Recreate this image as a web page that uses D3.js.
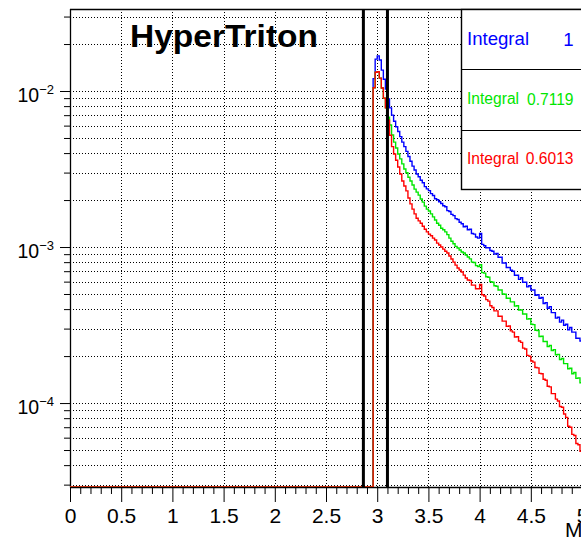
<!DOCTYPE html>
<html>
<head>
<meta charset="utf-8">
<script src="https://cdn.jsdelivr.net/npm/d3@7"></script>
<style>
  body { margin: 0; background: #fff; overflow: hidden; }
  svg { display: block; }
  text { font-family: "Liberation Sans", Arial, Helvetica, sans-serif; }
</style>
</head>
<body>
<svg id="chart" width="581" height="539"></svg>
<script>
// Histogram binning: first filled bin edge and bin width (everything below is empty)
const binLow = 2.96;
const binWidth = 0.02;

// Bin contents, bins 2.96 ... 4.98
const blueCounts = [
  1.2e-2, 1.6e-2, 1.68e-2, 1.58e-2, 1.36e-2, 1.19e-2, 1.03e-2, 8.9e-3, 7.8e-3, 7.0e-3,
  6.4e-3, 5.9e-3, 5.5e-3, 5.1e-3, 4.7e-3, 4.4e-3, 4.1e-3, 3.8e-3, 3.55e-3, 3.3e-3,
  3.12e-3, 2.94e-3, 2.82e-3, 2.68e-3, 2.58e-3, 2.44e-3, 2.36e-3, 2.3e-3, 2.2e-3, 2.14e-3,
  2.04e-3, 2.01e-3, 1.95e-3, 1.9e-3, 1.84e-3, 1.81e-3, 1.71e-3, 1.69e-3, 1.62e-3, 1.59e-3,
  1.52e-3, 1.5e-3, 1.44e-3, 1.41e-3, 1.35e-3, 1.36e-3, 1.29e-3, 1.3e-3, 1.22e-3, 1.21e-3,
  1.16e-3, 1.14e-3, 1.22e-3, 1.04e-3, 1.02e-3, 9.9e-4, 9.9e-4, 9.5e-4, 9.4e-4, 9.0e-4,
  9.1e-4, 8.6e-4, 8.6e-4, 7.9e-4, 7.9e-4, 7.4e-4, 7.4e-4, 7.1e-4, 7.0e-4, 6.6e-4,
  6.6e-4, 6.2e-4, 6.35e-4, 5.95e-4, 5.95e-4, 5.55e-4, 5.65e-4, 5.3e-4, 5.3e-4, 4.9e-4,
  4.95e-4, 4.7e-4, 4.75e-4, 4.35e-4, 4.4e-4, 4.05e-4, 4.15e-4, 3.8e-4, 3.8e-4, 3.5e-4,
  3.55e-4, 3.3e-4, 3.4e-4, 3.15e-4, 3.2e-4, 2.95e-4, 3.05e-4, 2.85e-4, 2.85e-4, 2.6e-4,
  2.6e-4, 2.5e-4
];
const greenCounts = [
  1.05e-2, 1.32e-2, 1.33e-2, 1.21e-2, 1.045e-2, 9.0e-3, 7.8e-3, 6.8e-3, 6.06e-3, 5.22e-3,
  4.7e-3, 4.31e-3, 3.95e-3, 3.67e-3, 3.41e-3, 3.16e-3, 2.99e-3, 2.8e-3, 2.65e-3, 2.5e-3,
  2.35e-3, 2.25e-3, 2.15e-3, 2.03e-3, 1.94e-3, 1.83e-3, 1.75e-3, 1.7e-3, 1.63e-3, 1.56e-3,
  1.49e-3, 1.42e-3, 1.38e-3, 1.32e-3, 1.29e-3, 1.25e-3, 1.2e-3, 1.14e-3, 1.09e-3, 1.05e-3,
  1.01e-3, 9.85e-4, 9.57e-4, 9.29e-4, 9.15e-4, 8.89e-4, 8.63e-4, 8.4e-4, 8.0e-4, 7.95e-4,
  7.6e-4, 7.5e-4, 7.7e-4, 6.85e-4, 6.8e-4, 6.45e-4, 6.4e-4, 6.0e-4, 5.95e-4, 5.65e-4,
  5.6e-4, 5.3e-4, 5.3e-4, 5.0e-4, 4.98e-4, 4.7e-4, 4.7e-4, 4.45e-4, 4.45e-4, 4.18e-4,
  4.2e-4, 3.95e-4, 3.95e-4, 3.72e-4, 3.72e-4, 3.45e-4, 3.47e-4, 3.2e-4, 3.18e-4, 2.93e-4,
  2.92e-4, 2.67e-4, 2.68e-4, 2.48e-4, 2.48e-4, 2.3e-4, 2.34e-4, 2.17e-4, 2.2e-4, 2.04e-4,
  2.05e-4, 1.9e-4, 1.93e-4, 1.79e-4, 1.79e-4, 1.66e-4, 1.67e-4, 1.54e-4, 1.57e-4, 1.44e-4,
  1.45e-4, 1.35e-4
];
const redCounts = [
  1.05e-2, 1.32e-2, 1.33e-2, 1.21e-2, 1.045e-2, 9.0e-3, 7.8e-3, 6.5e-3, 5.2e-3, 4.4e-3,
  3.95e-3, 3.6e-3, 3.26e-3, 2.94e-3, 2.65e-3, 2.46e-3, 2.29e-3, 2.06e-3, 1.89e-3, 1.75e-3,
  1.63e-3, 1.53e-3, 1.47e-3, 1.42e-3, 1.36e-3, 1.3e-3, 1.25e-3, 1.21e-3, 1.18e-3, 1.14e-3,
  1.11e-3, 1.06e-3, 1.03e-3, 1.0e-3, 9.7e-4, 9.4e-4, 9.15e-4, 8.76e-4, 8.38e-4, 8.0e-4,
  7.66e-4, 7.33e-4, 7.12e-4, 6.91e-4, 6.61e-4, 6.33e-4, 6.15e-4, 6.1e-4, 5.7e-4, 5.7e-4,
  5.4e-4, 5.4e-4, 5.75e-4, 4.95e-4, 4.85e-4, 4.6e-4, 4.5e-4, 4.2e-4, 4.1e-4, 3.9e-4,
  3.9e-4, 3.6e-4, 3.6e-4, 3.35e-4, 3.35e-4, 3.1e-4, 3.12e-4, 2.9e-4, 2.85e-4, 2.65e-4,
  2.66e-4, 2.5e-4, 2.45e-4, 2.25e-4, 2.22e-4, 2.02e-4, 2.0e-4, 1.86e-4, 1.83e-4, 1.69e-4,
  1.68e-4, 1.55e-4, 1.54e-4, 1.42e-4, 1.4e-4, 1.28e-4, 1.27e-4, 1.15e-4, 1.15e-4, 1.06e-4,
  1.03e-4, 9.5e-5, 9.4e-5, 8.5e-5, 8.1e-5, 7.1e-5, 7.0e-5, 6.3e-5, 6.2e-5, 5.5e-5,
  5.4e-5, 4.9e-5
];

// Axis ticks and labels
const xTicks = [0, 0.5, 1, 1.5, 2, 2.5, 3, 3.5, 4, 4.5, 5];
const xTickLabels = ["0", "0.5", "1", "1.5", "2", "2.5", "3", "3.5", "4", "4.5", "5"];
const yDecades = [1e-4, 1e-3, 1e-2];
const yDecadeExponents = ["\u22124", "\u22123", "\u22122"];
const xAxisTitle = "M";
const title = "HyperTriton";

// Mass-window cut positions
const cutLines = [2.865, 3.1];

// Legend entries
const legendLabels = ["Integral", "Integral", "Integral"];
const legendValues = ["1", "0.7119", "0.6013"];
const seriesColors = ["#0000ff", "#00e600", "#ff0000"];

// ---------------------------------------------------------------------------
const svg = d3.select("#chart");
const W = 581, H = 539;
const frame = { left: 70, top: 9, bottom: 487, right: 602.5 };

const xMax = 5.2;
const yMin = 2.897e-5, yMax = 0.03354;

const x = d3.scaleLinear().domain([0, xMax]).range([frame.left, frame.right]);
const y = d3.scaleLog().domain([yMin, yMax]).range([frame.bottom, frame.top]);

svg.append("rect").attr("width", W).attr("height", H).attr("fill", "#fff");

svg.append("defs").append("clipPath").attr("id", "plotClip")
  .append("rect")
  .attr("x", frame.left).attr("y", frame.top)
  .attr("width", frame.right - frame.left).attr("height", frame.bottom - frame.top);

// Minor y ticks (2..9 per decade) inside the range
const yMinor = [];
for (let e = -5; e <= -1; e++) {
  for (let m = 2; m <= 9; m++) {
    const v = m * Math.pow(10, e);
    if (v >= yMin && v <= yMax) yMinor.push(v);
  }
}
const xMinor = d3.range(0, 52).map(i => i / 10).filter(v => v <= xMax + 1e-9 && Math.abs(v * 2 - Math.round(v * 2)) > 1e-6);

// Grid (dotted)
const grid = svg.append("g").attr("stroke", "#000").attr("stroke-width", 1)
  .attr("stroke-dasharray", "1,2").attr("fill", "none")
  .attr("shape-rendering", "crispEdges");
grid.selectAll("line.gy").data(yDecades.concat(yMinor)).join("line")
  .attr("x1", frame.left).attr("x2", frame.right)
  .attr("y1", d => Math.round(y(d)) + 0.5).attr("y2", d => Math.round(y(d)) + 0.5);
grid.selectAll("line.gx").data(xTicks.filter(v => v > 0)).join("line")
  .attr("y1", frame.top).attr("y2", frame.bottom)
  .attr("x1", d => Math.round(x(d)) + 0.5).attr("x2", d => Math.round(x(d)) + 0.5);

// X axis: major ticks with labels, minor ticks without
const xAxisG = svg.append("g").attr("transform", `translate(0,${frame.bottom})`);
xAxisG.call(d3.axisBottom(x).tickValues(xTicks)
  .tickFormat((d, i) => xTickLabels[i]).tickSize(15).tickSizeOuter(0).tickPadding(6));
xAxisG.select(".domain").remove();
xAxisG.selectAll("text").attr("font-size", 21).attr("fill", "#000")
  .style("font-family", '"Liberation Sans", Arial, sans-serif');
xAxisG.selectAll("line").attr("stroke-width", 1);
const xMinorG = svg.append("g").attr("transform", `translate(0,${frame.bottom})`);
xMinorG.call(d3.axisBottom(x).tickValues(xMinor).tickFormat("").tickSize(7).tickSizeOuter(0));
xMinorG.select(".domain").remove();

// Y axis: decades with 10^n labels, minor ticks
const yAxisG = svg.append("g").attr("transform", `translate(${frame.left},0)`);
yAxisG.call(d3.axisLeft(y).tickValues(yDecades).tickFormat("").tickSize(10).tickSizeOuter(0));
yAxisG.select(".domain").remove();
const yMinorG = svg.append("g").attr("transform", `translate(${frame.left},0)`);
yMinorG.call(d3.axisLeft(y).tickValues(yMinor).tickFormat("").tickSize(6).tickSizeOuter(0));
yMinorG.select(".domain").remove();

const yLab = svg.append("g");
yDecades.forEach((v, i) => {
  const t = yLab.append("text")
    .attr("x", 54).attr("y", y(v) + 10.5)
    .attr("text-anchor", "end").attr("fill", "#000");
  t.append("tspan").attr("font-size", 19.5).text("10");
  t.append("tspan").attr("font-size", 13).attr("dy", -7.5).text(yDecadeExponents[i]);
});

// Frame lines (left axis, bottom axis, top border)
svg.append("line").attr("x1", frame.left + 0.5).attr("x2", frame.left + 0.5)
  .attr("y1", frame.top).attr("y2", frame.bottom + 0.5).attr("stroke", "#000").attr("stroke-width", 1.3);
svg.append("line").attr("x1", frame.left).attr("x2", W)
  .attr("y1", frame.bottom + 0.5).attr("y2", frame.bottom + 0.5).attr("stroke", "#000").attr("stroke-width", 1.3);
svg.append("line").attr("x1", frame.left).attr("x2", W)
  .attr("y1", frame.top + 0.5).attr("y2", frame.top + 0.5).attr("stroke", "#000").attr("stroke-width", 1.3);

// Step histograms: empty bins sit on the lower edge of the frame
function histPoints(counts) {
  const pts = [[0, yMin]];
  counts.forEach((c, i) => pts.push([binLow + i * binWidth, c > 0 ? c : yMin]));
  pts.push([binLow + counts.length * binWidth, counts[counts.length - 1]]);
  return pts;
}
const step = d3.line().x(d => x(d[0])).y(d => y(d[1])).curve(d3.curveStepAfter);
const hists = svg.append("g").attr("clip-path", "url(#plotClip)");
[blueCounts, greenCounts, redCounts].forEach((counts, i) => {
  hists.append("path").datum(histPoints(counts))
    .attr("d", step).attr("fill", "none")
    .attr("stroke", seriesColors[i]).attr("stroke-width", 1.4);
});

// Mass-window cut lines
svg.append("g").selectAll("line").data(cutLines).join("line")
  .attr("x1", d => x(d)).attr("x2", d => x(d))
  .attr("y1", frame.top).attr("y2", frame.bottom)
  .attr("stroke", "#000").attr("stroke-width", 3);

// Integral boxes
const box = { x: 461.5, edges: [9.5, 69.5, 130.5, 189.5] };
const legend = svg.append("g");
legend.append("rect")
  .attr("x", box.x).attr("y", box.edges[0])
  .attr("width", 200).attr("height", box.edges[3] - box.edges[0])
  .attr("fill", "#fff").attr("stroke", "#000").attr("stroke-width", 1.4);
legend.selectAll("line.div").data(box.edges.slice(1, 3)).join("line")
  .attr("x1", box.x).attr("x2", W).attr("y1", d => d).attr("y2", d => d)
  .attr("stroke", "#000").attr("stroke-width", 1.2);
const legendFont = [18.6, 15.6, 15.6];
const legendBase = [45, 104, 163.5];
legendLabels.forEach((lab, i) => {
  legend.append("text").attr("x", 467).attr("y", legendBase[i])
    .attr("font-size", legendFont[i]).attr("fill", seriesColors[i]).text(lab);
  legend.append("text").attr("x", 573.5).attr("y", legendBase[i] + (i === 0 ? 1 : 0.5))
    .attr("text-anchor", "end")
    .attr("font-size", legendFont[i]).attr("fill", seriesColors[i]).text(legendValues[i]);
});

// Title
svg.append("text").attr("x", 130).attr("y", 47)
  .attr("font-size", 32).attr("font-weight", "bold").attr("fill", "#000")
  .attr("textLength", 188).attr("lengthAdjust", "spacingAndGlyphs")
  .text(title);

// X axis title
svg.append("text").attr("x", 565).attr("y", 537)
  .attr("font-size", 21).attr("fill", "#000").text(xAxisTitle);
</script>
</body>
</html>
